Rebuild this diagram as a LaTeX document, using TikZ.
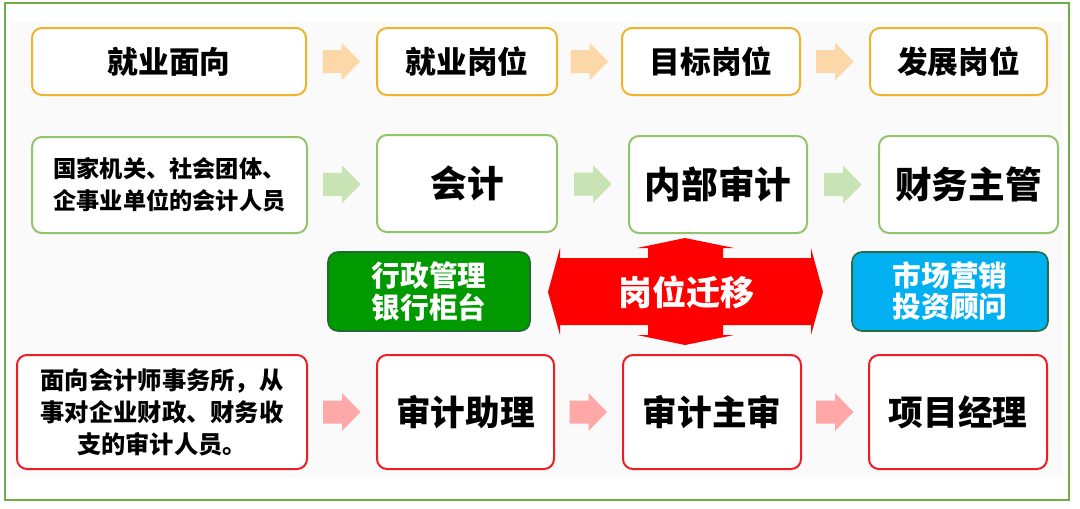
\documentclass[tikz,border=0pt]{standalone}
\usepackage{fontspec}
\setmainfont{Noto Sans CJK SC}
\usetikzlibrary{calc}
\definecolor{framegreen}{HTML}{70AD47}
\definecolor{bggray}{HTML}{FAFAFA}
\definecolor{ybord}{HTML}{EFB32C}
\definecolor{gbord}{HTML}{92C46B}
\definecolor{rbord}{HTML}{EE1C25}
\definecolor{yarrow}{HTML}{FCD7A8}
\definecolor{garrow}{HTML}{C8E4B4}
\definecolor{rarrow}{HTML}{FFA8A8}
\definecolor{gfill}{HTML}{009900}
\definecolor{gfillbd}{HTML}{1F6B32}
\definecolor{bfill}{HTML}{00B0F0}
\definecolor{bfillbd}{HTML}{2A6E3F}
\definecolor{crossred}{HTML}{FF0000}
\newcommand\pbox[7]{\node[#6, minimum width={(#4-#2)*0.75pt}, minimum height={(#5-#3)*0.75pt}] (#1) at ({(#2+#4)/2},{(#3+#5)/2}) {#7};}
\begin{document}
\begin{tikzpicture}[x=0.75pt,y=-0.75pt,
  box/.style={draw, rounded corners=7.5pt, line width=1.5pt, fill=white, inner sep=0pt, align=center},
  ybox/.style={box, draw=ybord, font=\fontsize{23pt}{26pt}\selectfont\bfseries},
  gbox/.style={box, draw=gbord, font=\fontsize{27.5pt}{30pt}\selectfont\bfseries},
  gboxs/.style={box, draw=gbord, font=\fontsize{17.4pt}{24pt}\selectfont\bfseries},
  rbox/.style={box, draw=rbord, font=\fontsize{26pt}{30pt}\selectfont\bfseries},
  rboxs/.style={box, draw=rbord, font=\fontsize{18.2pt}{24pt}\selectfont\bfseries},
  midbox/.style={box, line width=1.2pt, text=white, font=\fontsize{21.5pt}{23.3pt}\selectfont\bfseries},
  blockarrow/.pic={\fill[pic actions] (-19,-11.5) -- (0,-11.5) -- (0,-19) -- (18.5,0) -- (0,19) -- (0,11.5) -- (-19,11.5) -- cycle;}
]
\useasboundingbox (0,0) rectangle (1080,508);
\fill[white] (0,0) rectangle (1080,508);
\fill[bggray] (10,22) rectangle (1063,477);
\draw[framegreen, line width=2.2pt] (5,3) rectangle (1069,500);

% row 1
\pbox{a1}{32}{28}{306}{95}{ybox}{就业面向}
\pbox{a2}{377}{28}{557}{95}{ybox}{就业岗位}
\pbox{a3}{622}{28}{800}{95}{ybox}{目标岗位}
\pbox{a4}{870}{28}{1047}{95}{ybox}{发展岗位}
% row 2
\pbox{b1}{32}{137}{307}{233}{gboxs}{国家机关、社会团体、\\企事业单位的会计人员}
\pbox{b2}{377}{135}{557}{232}{gbox}{会计}
\pbox{b3}{629}{136}{807}{233}{gbox}{内部审计}
\pbox{b4}{879}{136}{1058}{233}{gbox}{财务主管}
% middle
\pbox{m1}{328}{252}{530}{331}{midbox, fill=gfill, draw=gfillbd}{行政管理\\银行柜台}
\pbox{m2}{852}{252}{1048}{331}{midbox, fill=bfill, draw=bfillbd}{市场营销\\投资顾问}
% row 3
\pbox{c1}{17}{355}{307}{469}{rboxs}{面向会计师事务所，从\\事对企业财政、财务收\\支的审计人员。}
\pbox{c2}{377}{355}{554}{469}{rbox}{审计助理}
\pbox{c3}{623}{355}{801}{469}{rbox}{审计主审}
\pbox{c4}{869}{355}{1047}{469}{rbox}{项目经理}

% block arrows
\pic[fill=yarrow] at ($(a1.east)!0.5!(a2.west)$) {blockarrow};
\pic[fill=yarrow] at ($(a2.east)!0.5!(a3.west)$) {blockarrow};
\pic[fill=yarrow] at ($(a3.east)!0.5!(a4.west)$) {blockarrow};
\pic[fill=garrow] at ($(b1.east)!0.5!(b2.west)$) {blockarrow};
\pic[fill=garrow] at ($(b2.east)!0.5!(b3.west)$) {blockarrow};
\pic[fill=garrow] at ($(b3.east)!0.5!(b4.west)$) {blockarrow};
\pic[fill=rarrow] at ($(c1.east)!0.5!(c2.west)$) {blockarrow};
\pic[fill=rarrow] at ($(c2.east)!0.5!(c3.west)$) {blockarrow};
\pic[fill=rarrow] at ($(c3.east)!0.5!(c4.west)$) {blockarrow};

% migration cross
\fill[crossred] (548,292) -- (560,248) -- (560,258) -- (648,258) -- (648,248) -- (637,248) -- (685,238) -- (734,248) -- (723,248) -- (723,258) -- (811,258) -- (811,248) -- (823,292) -- (811,335) -- (811,325) -- (723,325) -- (723,335) -- (734,335) -- (685,345) -- (637,335) -- (648,335) -- (648,325) -- (560,325) -- (560,335) -- cycle;
\node[text=white, font=\fontsize{25.5pt}{28pt}\selectfont\bfseries] (mig) at (686,292) {岗位迁移};
\end{tikzpicture}
\end{document}
